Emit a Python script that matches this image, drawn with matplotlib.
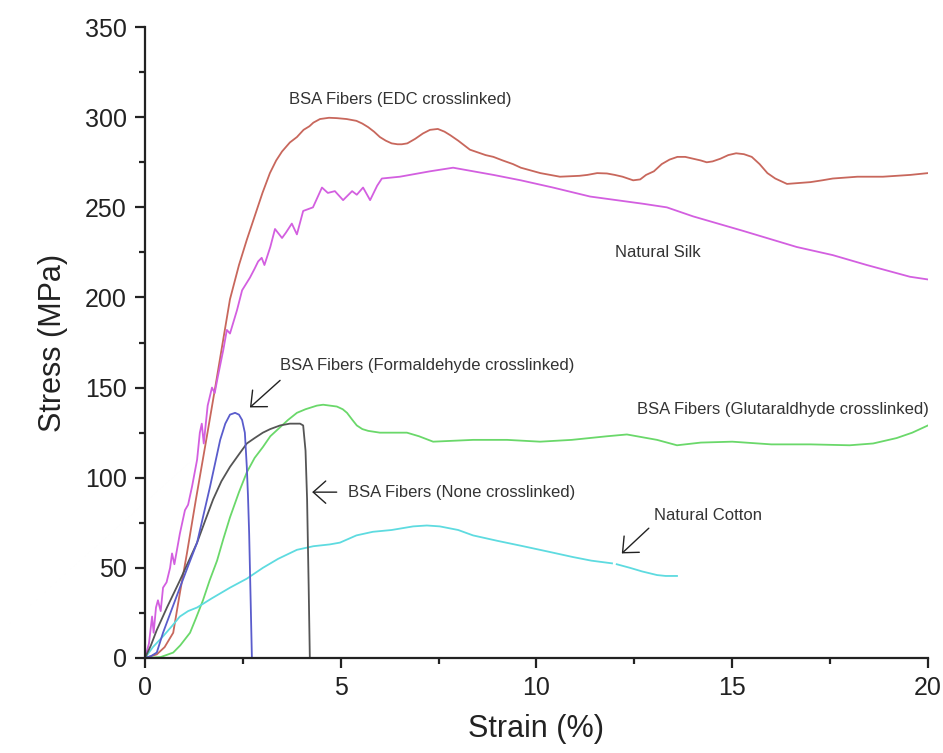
import numpy as np
import matplotlib
matplotlib.use("Agg")
import matplotlib.pyplot as plt
from matplotlib.ticker import MultipleLocator

plt.rcParams['font.family'] = ['Liberation Sans', 'DejaVu Sans']

# Stress-strain curves (strain in %, stress in MPa)
edc_x = [0, 0.3, 0.5, 0.72, 0.89, 1.07, 1.3, 1.58, 1.8, 2.0, 2.17, 2.4, 2.6, 2.8, 3.0,
         3.19, 3.35, 3.5, 3.7, 3.88, 4.05, 4.2, 4.3, 4.47, 4.7, 4.9, 5.15, 5.4, 5.55, 5.7,
         5.85, 6.0, 6.15, 6.3, 6.45, 6.56, 6.7, 6.9, 7.1, 7.28, 7.48, 7.65, 7.8, 8.0, 8.3,
         8.5, 8.7, 8.9, 9.14, 9.4, 9.6, 9.85, 10.1, 10.35, 10.6, 11.1, 11.3, 11.55, 11.8,
         12.0, 12.2, 12.47, 12.65, 12.8, 13.0, 13.2, 13.4, 13.6, 13.8, 14.0, 14.2, 14.35,
         14.5, 14.7, 14.9, 15.1, 15.3, 15.5, 15.7, 15.9, 16.1, 16.4, 16.7, 17.0, 17.3, 17.57,
         18.2, 18.85, 19.55, 20.0]
edc_y = [0, 2, 6, 14, 36, 58, 88, 123, 151, 177, 199, 218, 232, 245, 258,
         269, 276, 281, 286, 289, 293, 295, 297, 299, 299.7, 299.5, 299, 298, 296.5, 294.5,
         292, 289, 287, 285.5, 285, 285, 285.5, 288, 291, 293, 293.5, 292, 290, 287, 282,
         280.5, 279, 278, 276, 274, 272, 270.5, 269, 268, 267, 267.5, 268, 269, 268.8,
         268, 267, 265, 265.5, 268, 270, 274, 276.5, 278, 278, 277, 276, 275,
         275.5, 277, 279, 280, 279.5, 278, 274, 269, 266, 263, 263.5, 264, 265, 266,
         267, 267, 268, 269]

silk_x = [0, 0.1, 0.18, 0.22, 0.28, 0.33, 0.4, 0.46, 0.55, 0.64,
          0.69, 0.75, 0.89, 1.02, 1.1, 1.2, 1.33, 1.4, 1.45, 1.5,
          1.6, 1.71, 1.78, 1.85, 2.0, 2.09, 2.17, 2.35, 2.48, 2.68,
          2.8, 2.89, 2.98, 3.05, 3.2, 3.32, 3.5, 3.6, 3.75, 3.88,
          4.04, 4.29, 4.52, 4.67, 4.85, 5.06, 5.29, 5.41, 5.57, 5.75,
          5.93, 6.05, 6.51, 7.28, 7.87, 8.9, 9.6, 10.42, 11.37, 12.72,
          13.33, 14.0, 15.27, 16.65, 17.57, 18.44, 19.54, 20.0]
silk_y = [0, 8, 23, 14, 28, 32, 26, 39, 42, 50,
          58, 52, 69, 82, 85, 95, 110, 125, 130, 119,
          140, 150, 147, 155, 171, 182, 180, 193, 204, 211,
          216, 220, 222, 218, 228, 238, 233, 236, 241, 235,
          248, 250, 261, 258, 259, 254, 259, 257, 261, 254,
          262, 266, 267, 270, 272, 268, 265, 261, 256, 252,
          250, 245, 237, 228, 223.5, 218, 211.5, 210]

form_x = [0, 0.15, 0.3, 0.46, 0.7, 0.89, 1.1, 1.33, 1.5, 1.66, 1.8, 1.92, 2.05, 2.17, 2.3,
          2.4, 2.48, 2.55, 2.6, 2.63, 2.66, 2.7, 2.73, 2.8]
form_y = [0, 1, 3, 14, 28, 39, 51, 64, 80, 95, 109, 121, 130, 135, 136,
          135, 132, 125, 106, 90, 69, 30, 0, 0]

none_x = [0, 0.15, 0.3, 0.56, 0.89, 1.1, 1.33, 1.55, 1.74, 1.95, 2.17, 2.4, 2.6, 2.8, 3.01,
          3.2, 3.45, 3.7, 3.96, 4.04, 4.1, 4.14, 4.18, 4.21]
none_y = [0, 7, 15.5, 28, 43, 53, 64, 77, 88, 98, 106, 113, 119, 122, 125,
          127, 129, 130, 130, 129, 115, 88, 40, 0]

glut_x = [0, 0.4, 0.72, 0.9, 1.15, 1.3, 1.48, 1.65, 1.84, 2.0, 2.17, 2.4, 2.6, 2.8, 3.01,
          3.2, 3.45, 3.65, 3.88, 4.1, 4.39, 4.55, 4.9, 5.05, 5.16, 5.3, 5.41, 5.55, 5.7, 6.0,
          6.69, 7.0, 7.36, 8.38, 9.25, 10.09, 10.9, 11.8, 12.31, 13.08, 13.59, 14.2, 15.0,
          16.0, 17.0, 18.0, 18.6, 19.2, 19.6, 20.0]
glut_y = [0, 0.5, 3, 7, 14, 22, 32, 43, 54, 66, 78, 92, 103, 111, 117,
          123, 128, 132, 136, 138, 140, 140.5, 139.5, 138, 136, 132, 129, 127, 126, 125,
          125, 123, 120, 121, 121, 120, 121, 123, 124, 121, 118, 119.5, 120,
          118.5, 118.5, 118, 119, 122, 125, 129]

cotton_x = [0, 0.2, 0.46, 0.7, 0.89, 1.1, 1.33, 1.7, 2.17, 2.6, 3.01, 3.4, 3.88, 4.3, 4.72,
            4.98, 5.4, 5.82, 6.3, 6.85, 7.2, 7.53, 8.0, 8.38, 9.0, 9.66, 10.3, 10.93, 11.4,
            11.93, np.nan, 12.05, 12.39, 12.7, 13.08, 13.3, 13.59]
cotton_y = [0, 6, 12, 18, 23, 26, 28, 33, 39, 44, 50, 55, 60, 62, 63,
            64, 68, 70, 71, 73, 73.5, 73, 71, 68, 65, 62, 59, 56, 54,
            52.5, np.nan, 52, 50, 48, 46, 45.5, 45.5]

x_ticks = [0, 5, 10, 15, 20]
y_ticks = [0, 50, 100, 150, 200, 250, 300, 350]

fig = plt.figure(figsize=(9.43, 7.53), dpi=100)
ax = fig.add_axes([0.1538, 0.1262, 0.8302, 0.8378])

lw = 1.3
ax.plot(edc_x, edc_y, color='#c8675c', lw=lw)
ax.plot(silk_x, silk_y, color='#d35fe0', lw=lw)
ax.plot(glut_x, glut_y, color='#6ad86a', lw=lw)
ax.plot(cotton_x, cotton_y, color='#5edbe0', lw=lw)
ax.plot(none_x, none_y, color='#555555', lw=lw)
ax.plot(form_x, form_y, color='#5a5ccc', lw=lw)

ax.set_xlim(0, 20)
ax.set_ylim(0, 350)
ax.set_xticks(x_ticks)
ax.set_yticks(y_ticks)
ax.xaxis.set_minor_locator(MultipleLocator(2.5))
ax.yaxis.set_minor_locator(MultipleLocator(25))

for s in ['top', 'right']:
    ax.spines[s].set_visible(False)
for s in ['left', 'bottom']:
    ax.spines[s].set_linewidth(1.6)
    ax.spines[s].set_color('#222222')

ax.tick_params(which='major', direction='out', length=7, width=1.6, color='#222222',
               labelsize=18, labelcolor='#222222', pad=6)
ax.tick_params(which='minor', direction='out', length=4, width=1.6, color='#222222')

ax.set_xlabel('Strain (%)', fontsize=22, color='#222222', labelpad=10)
ax.set_ylabel('Stress (MPa)', fontsize=22, color='#222222', labelpad=12)

tc = '#333333'
fs = 12
ax.text(6.51, 310, 'BSA Fibers (EDC crosslinked)', fontsize=fs, color=tc,
        ha='center', va='center')
ax.text(13.1, 225, 'Natural Silk', fontsize=fs, color=tc, ha='center', va='center')
ax.text(7.2, 162, 'BSA Fibers (Formaldehyde crosslinked)', fontsize=fs, color=tc,
        ha='center', va='center')
ax.text(16.3, 138, 'BSA Fibers (Glutaraldhyde crosslinked)', fontsize=fs, color=tc,
        ha='center', va='center')
ax.text(14.38, 79, 'Natural Cotton', fontsize=fs, color=tc, ha='center', va='center')

arrow = dict(arrowstyle='->, head_length=0.45, head_width=0.4', color='#222222',
             lw=1.0, mutation_scale=20, shrinkA=0, shrinkB=0)
ax.annotate('', xy=(2.68, 139), xytext=(3.45, 154), arrowprops=arrow)
ax.annotate('BSA Fibers (None crosslinked)', xy=(4.27, 92), xytext=(5.18, 92),
            fontsize=fs, color=tc, va='center', ha='left',
            arrowprops=dict(arrow, shrinkA=6))
ax.annotate('', xy=(12.18, 58), xytext=(12.87, 72), arrowprops=arrow)

fig.savefig('out.png', dpi=100)
